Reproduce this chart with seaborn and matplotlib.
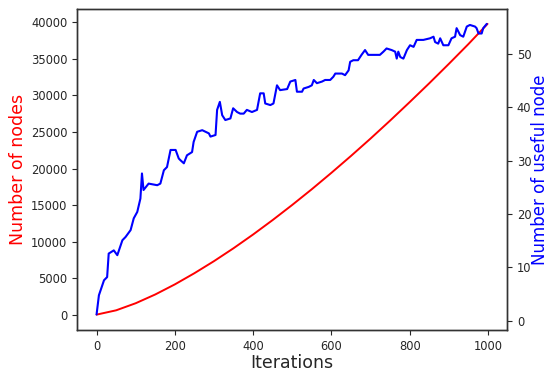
import numpy as np
import pandas as pd
import seaborn as sns
import matplotlib

matplotlib.use("Agg")
import matplotlib.pyplot as plt

# total number of nodes in the tree
node_iters = [0, 50, 100, 150, 200, 250, 300, 350, 400, 450, 500,
              550, 600, 650, 700, 750, 800, 850, 900, 950, 999]
node_counts = [0, 590, 1560, 2760, 4140, 5670, 7320, 9090, 10970, 12950, 15020,
               17170, 19410, 21720, 24100, 26560, 29090, 31670, 34320, 37030, 39800]

# number of useful nodes (blue curve)
useful_iters = [0, 6, 19, 27, 31, 44, 53, 66, 74, 87, 95, 104, 112, 116, 120,
                133, 155, 163, 172, 180, 189, 202, 210, 214, 223, 231, 244, 248,
                257, 270, 287, 291, 304, 308, 315, 321, 329, 342, 349, 359, 367,
                376, 384, 397, 410, 418, 427, 431, 444, 452, 461, 469, 487, 495,
                508, 512, 525, 529, 542, 550, 555, 563, 576, 584, 597, 605, 610,
                627, 635, 644, 648, 656, 668, 677, 686, 694, 707, 724, 733, 741,
                754, 763, 767, 771, 776, 784, 793, 801, 810, 818, 835, 852, 861,
                865, 873, 878, 886, 899, 907, 916, 920, 929, 937, 946, 954, 967,
                971, 976, 984, 988, 997]
useful_counts = [1.2, 4.8, 7.6, 8.2, 12.6, 13.2, 12.3, 15.1, 15.7, 17.0, 19.2,
                 20.4, 22.9, 27.6, 24.5, 25.7, 25.4, 25.7, 28.2, 28.8, 32.0, 32.0,
                 30.4, 30.1, 29.5, 31.0, 31.6, 33.5, 35.4, 35.7, 35.1, 34.5, 34.8,
                 39.5, 41.0, 38.5, 37.6, 37.9, 39.8, 39.1, 38.8, 38.8, 39.5, 39.1,
                 39.5, 42.6, 42.6, 40.7, 40.4, 40.7, 44.1, 43.2, 43.4, 44.8, 45.1,
                 42.9, 42.9, 43.5, 43.8, 44.1, 45.1, 44.5, 44.8, 45.1, 45.1, 45.7,
                 46.3, 46.3, 46.0, 46.9, 48.5, 48.8, 48.8, 49.8, 50.7, 49.8, 49.8,
                 49.8, 50.4, 51.0, 50.7, 50.4, 49.1, 50.4, 49.4, 49.1, 50.7, 51.6,
                 51.3, 52.6, 52.6, 52.9, 53.2, 52.2, 51.9, 52.9, 51.6, 51.6, 52.9,
                 53.2, 54.8, 53.5, 53.2, 55.1, 55.4, 55.1, 54.8, 53.8, 53.8, 54.8,
                 55.6]

sns.set_style("ticks")
plt.rcParams["font.family"] = ["DejaVu Sans"]

nodes_df = pd.DataFrame({"iteration": node_iters, "nodes": node_counts})
useful_df = pd.DataFrame({"iteration": useful_iters, "useful": useful_counts})

fig = plt.figure(figsize=(5.5, 3.72), dpi=100)
ax = fig.add_axes([0.14, 0.113, 0.782, 0.863])
sns.lineplot(data=nodes_df, x="iteration", y="nodes", color="red", lw=1.4, ax=ax)
ax.set_xlim(-50, 1049)
ax.set_ylim(-2100, 41850)
ax.set_xticks([0, 200, 400, 600, 800, 1000])
ax.set_yticks(np.arange(0, 40001, 5000))
ax.set_xlabel("Iterations", fontsize=12.5, labelpad=1)
ax.set_ylabel("Number of nodes", color="red", fontsize=12.5, labelpad=3)
ax.tick_params(labelsize=8.3)

ax2 = ax.twinx()
sns.lineplot(data=useful_df, x="iteration", y="useful", color="blue", lw=1.5, ax=ax2)
ax2.set_ylim(-1.7, 58.4)
ax2.set_yticks([0, 10, 20, 30, 40, 50])
ax2.set_ylabel("Number of useful node", color="blue", fontsize=12, labelpad=0)
ax2.tick_params(labelsize=8.3)

for a in (ax, ax2):
    for s in a.spines.values():
        s.set_color("#333333")
        s.set_linewidth(1.0)

fig.savefig("out.png", dpi=100)
